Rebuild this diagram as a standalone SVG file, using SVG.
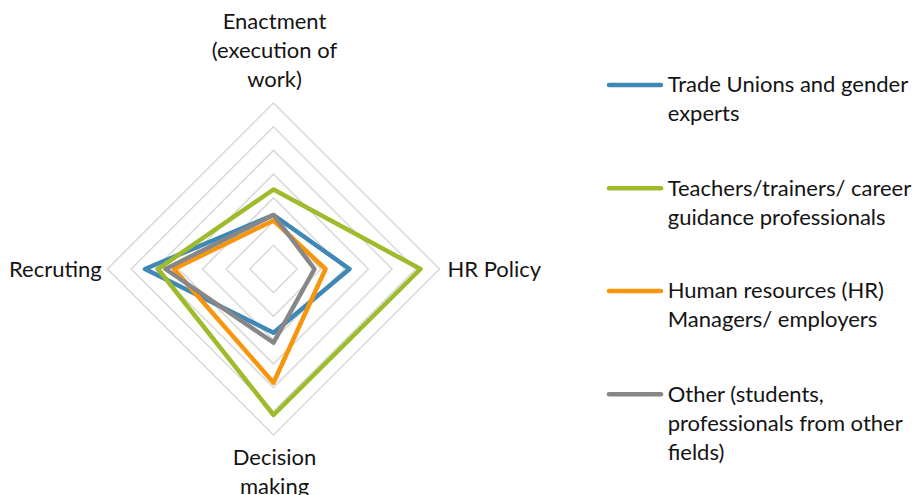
<svg xmlns="http://www.w3.org/2000/svg" width="915" height="495" viewBox="0 0 915 495">
<style>
  text { font-family: Lato, "Liberation Sans", sans-serif; font-size: 22px; fill: #141414; }
  .mid { text-anchor: middle; }
  .grid { fill: none; stroke: #D9D9D9; stroke-width: 1.5; }
  .series { fill: none; stroke-width: 4.5; stroke-linejoin: round; }
  .leg { stroke-width: 4.5; stroke-linecap: round; }
  .blue { stroke: #3F88B6; }
  .green { stroke: #9DBB2A; }
  .orange { stroke: #F7960D; }
  .gray { stroke: #878787; }
</style>
<rect width="915" height="495" fill="#FFFFFF"/>
<g id="grid">
  <polygon class="grid" points="273.5,245.3 297.2,269 273.5,292.7 249.8,269"/>
  <polygon class="grid" points="273.5,221.6 320.9,269 273.5,316.4 226.1,269"/>
  <polygon class="grid" points="273.5,197.9 344.6,269 273.5,340.1 202.4,269"/>
  <polygon class="grid" points="273.5,174.1 368.4,269 273.5,363.9 178.6,269"/>
  <polygon class="grid" points="273.5,150.4 392.1,269 273.5,387.6 154.9,269"/>
  <polygon class="grid" points="273.5,126.7 415.8,269 273.5,411.3 131.2,269"/>
  <polygon class="grid" points="273.5,103 439.5,269 273.5,435 107.5,269"/>
</g>
<g id="axis-labels">
  <g id="label-enactment">
    <text class="mid" x="274.5" y="29.3">Enactment</text>
    <text class="mid" x="274.5" y="58.3">(execution of</text>
    <text class="mid" x="274.5" y="87.3">work)</text>
  </g>
  <g id="label-hr-policy"><text x="447.5" y="276.7">HR Policy</text></g>
  <g id="label-decision">
    <text class="mid" x="274.5" y="465">Decision</text>
    <text class="mid" x="274.5" y="494">making</text>
  </g>
  <g id="label-recruting"><text x="9" y="276.7">Recruting</text></g>
</g>
<g id="connectors">
  <polygon id="series-trade-unions" class="series blue" points="273.5,215 349.5,269 273.5,332.7 145,269"/>
  <polygon id="series-teachers" class="series green" points="273.5,189.5 420.5,269 273.5,415 158,269"/>
  <polygon id="series-hr-managers" class="series orange" points="273.5,220.5 325.5,269 273.5,382.7 174,269"/>
  <polygon id="series-other" class="series gray" points="273.5,215 314.5,269 273.5,342.7 165.5,269"/>
</g>
<g id="legend">
  <g id="legend-trade-unions">
    <line class="leg blue" x1="609" y1="85" x2="661" y2="85"/>
    <text x="667.7" y="92.3">Trade Unions and gender</text>
    <text x="667.7" y="121.3">experts</text>
  </g>
  <g id="legend-teachers">
    <line class="leg green" x1="609" y1="188.3" x2="661" y2="188.3"/>
    <text x="667.7" y="196">Teachers/trainers/ career</text>
    <text x="667.7" y="225">guidance professionals</text>
  </g>
  <g id="legend-hr-managers">
    <line class="leg orange" x1="609" y1="291" x2="661" y2="291"/>
    <text x="667.7" y="298.3">Human resources (HR)</text>
    <text x="667.7" y="327.3">Managers/ employers</text>
  </g>
  <g id="legend-other">
    <line class="leg gray" x1="609" y1="394.3" x2="661" y2="394.3"/>
    <text x="667.7" y="401.7">Other (students,</text>
    <text x="667.7" y="430.7">professionals from other</text>
    <text x="667.7" y="459.7">fields)</text>
  </g>
</g>
</svg>
